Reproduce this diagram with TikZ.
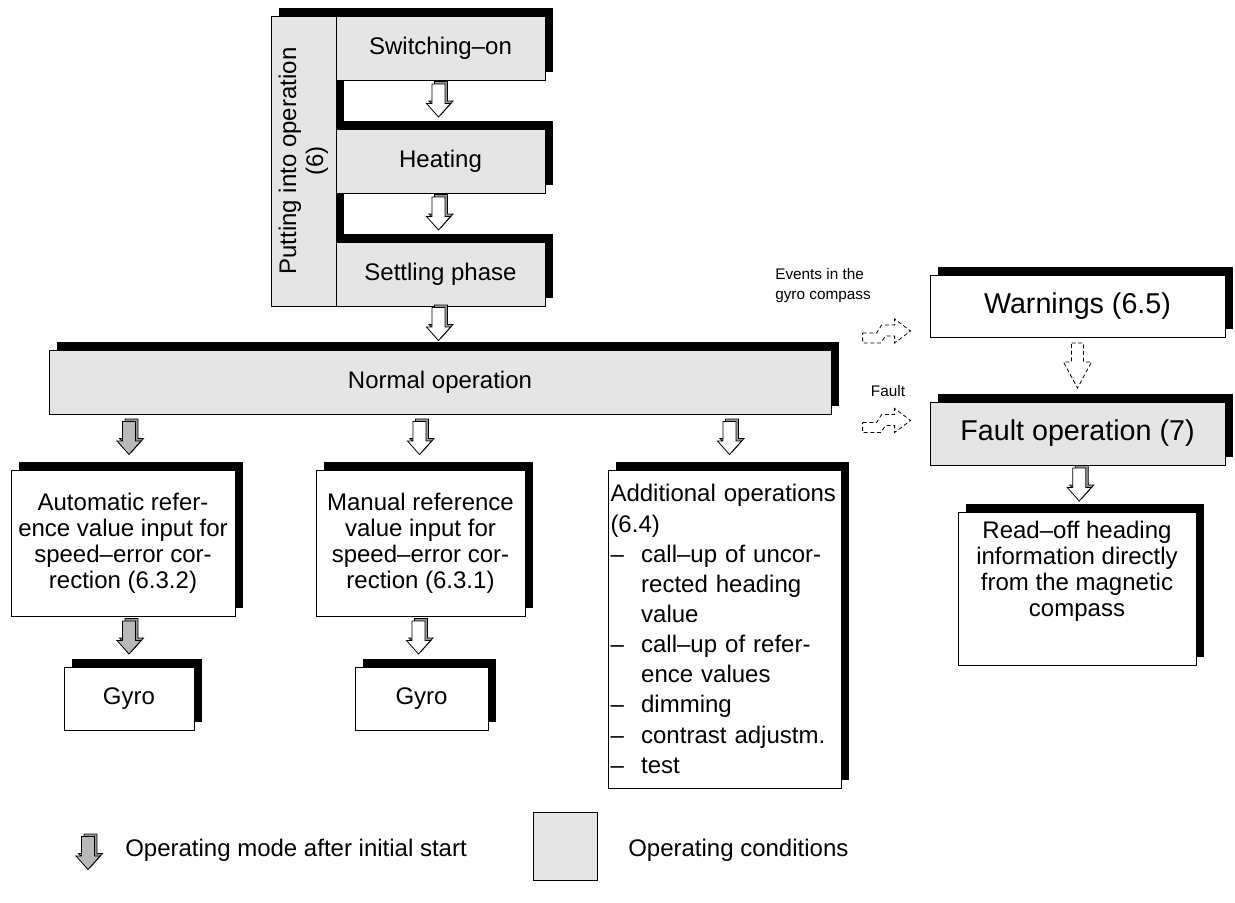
\documentclass[tikz,border=0pt]{standalone}
\usepackage{fontspec}
\setmainfont{Liberation Sans}
\usetikzlibrary{calc,shadows}
\definecolor{condgray}{gray}{0.9}
\definecolor{arrowshade}{gray}{0.6}
\definecolor{arrowfill}{gray}{0.72}
\begin{document}
\begin{tikzpicture}[x=0.75pt,y=-0.75pt,
  every node/.style={font=\fontsize{18}{19.5}\selectfont},
  sz/.style 2 args={minimum width=#1*0.75pt, minimum height=#2*0.75pt},
  box/.style={draw=black, line width=0.6pt, inner sep=0pt, align=center,
    general shadow={fill=black, shadow xshift=6pt, shadow yshift=6pt}},
  gbox/.style={box, fill=condgray},
  wbox/.style={box, fill=white},
  big/.style={font=\fontsize{21.5}{23}\selectfont},
  small/.style={font=\fontsize{11.5}{15}\selectfont},
  dasharrow/.style={draw=black, line width=0.6pt, dash pattern=on 3pt off 2pt, fill=white},
  pics/barrow/.style={code={
    \draw[line width=0.6pt, fill=arrowshade, shift={(2.5,-2.5)}]
      (-6.5,-16.5) -- (6.5,-16.5) -- (6.5,3) -- (12,3) -- (0,16.5) -- (-12,3) -- (-6.5,3) -- cycle;
    \draw[line width=0.6pt, fill=#1]
      (-6.5,-16.5) -- (6.5,-16.5) -- (6.5,3) -- (12,3) -- (0,16.5) -- (-12,3) -- (-6.5,3) -- cycle;
  }},
  pics/zarrow/.style={code={
    \draw[dasharrow] (0,0) -- (14,0) -- (19,-8) -- (32,-8) -- (32,-14) -- (48,-2)
      -- (32,10) -- (32,3) -- (23,3) -- (18,10) -- (0,10) -- cycle;
  }},
  pics/varrow/.style={code={
    \draw[dasharrow] (-6,-22.5) -- (6,-22.5) -- (6,-3.5) -- (14,-3.5) -- (0,22.5)
      -- (-14,-3.5) -- (-6,-3.5) -- cycle;
  }},
]
\useasboundingbox (0,0) rectangle (1235,903);

% Putting into operation group
\node[gbox, sz={65}{290}] (put) at (303.5,161) {};
\node[rotate=90, align=center, font=\fontsize{18}{20.25}\selectfont] (putlbl) at (put.center) {Putting into operation\\(6)};
\node[gbox, sz={209}{64}] (sw) at (440.5,48) {Switching–on};
\node[gbox, sz={209}{64}] (he) at (440.5,161) {Heating};
\node[gbox, sz={209}{64}] (se) at (440.5,274) {Settling phase};

% Normal operation
\node[gbox, sz={782}{64}] (normal) at (440,382) {Normal operation};

% lower boxes
\node[wbox, sz={224}{146}] (auto) at (123,543) {Automatic refer-\\ence value input for\\speed–error cor-\\rection (6.3.2)};
\node[wbox, sz={130}{63}] (gyro1) at (129,698.5) {Gyro};
\node[wbox, sz={209}{146}] (manual) at (420.5,543) {Manual reference\\value input for\\speed–error cor-\\rection (6.3.1)};
\node[wbox, sz={133}{63}] (gyro2) at (421.5,698.5) {Gyro};
\node[wbox, minimum height=318*0.75pt, text width=171pt, inner xsep=1.875pt, align=left,
  font=\fontsize{18}{22.6}\selectfont] (add) at (724.5,629)
  {Additional operations\\(6.4)\\
   \makebox[23pt][l]{–}call–up of uncor-\\
   \hspace*{23pt}rected heading\\
   \hspace*{23pt}value\\
   \makebox[23pt][l]{–}call–up of refer-\\
   \hspace*{23pt}ence values\\
   \makebox[23pt][l]{–}dimming\\
   \makebox[23pt][l]{–}contrast adjustm.\\
   \makebox[23pt][l]{–}test};

% right column
\node[wbox, big, sz={295}{62}] (warn) at (1077.5,306) {Warnings (6.5)};
\node[gbox, big, sz={295}{63}] (fault) at (1077.5,433.5) {Fault operation (7)};
\node[wbox, sz={238}{153}] (readoff) at (1077,588.5)
  {\raisebox{8pt}[0pt][0pt]{\begin{tabular}{@{}c@{}}Read–off heading\\information directly\\from the magnetic\\compass\end{tabular}}};

% labels
\node[small, align=left, anchor=west, inner sep=0pt] (evlbl) at (775,286) {Events in the\\gyro compass};
\node[small, inner sep=0pt] (flbl) at (888,391) {Fault};

% block arrows
\pic at ($(sw.south)!.5!(he.north)+(-2,-4)$) {barrow=white};
\pic at ($(he.south)!.5!(se.north)+(-2,-4)$) {barrow=white};
\pic at ($(se.south)!.5!(se.south |- normal.north)+(-2,-4)$) {barrow=white};
\pic at ($(normal.south -| gyro1.north)!.5!(auto.north -| gyro1.north)+(0,-4)$) {barrow=arrowfill};
\pic at ($(normal.south -| manual.north)!.5!(manual.north)+(-1,-4)$) {barrow=white};
\pic at ($(normal.south -| add.north)!.5!(add.north)+(5,-4)$) {barrow=white};
\pic at ($(auto.south -| gyro1.north)!.5!(gyro1.north)+(0,-4)$) {barrow=arrowfill};
\pic at ($(manual.south -| gyro2.north)!.5!(gyro2.north)+(-3,-4)$) {barrow=white};
\pic at ($(fault.south)!.5!(readoff.north)+(2,-4)$) {barrow=white};

% dashed arrows
\pic at ($(warn.west)+(-67,27)$) {zarrow};
\pic at ($(fault.west)+(-67,-11)$) {zarrow};
\pic at ($(warn.south)!.5!(fault.north)+(0,-4)$) {varrow};

% legend
\pic at (88,853) {barrow=arrowfill};
\node[anchor=west, inner sep=0pt] (leg1) at (125,850) {Operating mode after initial start};
\node[draw=black, line width=0.6pt, fill=condgray, sz={64}{68}, inner sep=0pt] (legsq) at (565,846) {};
\node[anchor=west, inner sep=0pt] (leg2) at (628,850) {Operating conditions};
\end{tikzpicture}
\end{document}
